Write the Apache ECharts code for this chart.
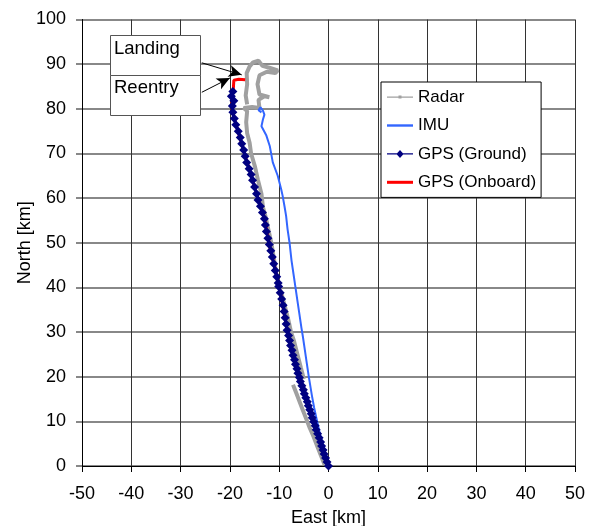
<!DOCTYPE html>
<html>
<head>
<meta charset="utf-8">
<script src="https://cdn.jsdelivr.net/npm/echarts@6/dist/echarts.min.js"></script>
<style>
  html, body { margin: 0; padding: 0; background: #fff; }
  #chart { width: 593px; height: 526px; }
</style>
</head>
<body>
<div id="chart"></div>
<script>
// values, [east km, north km]
const radarLow = [
  [-0.8, 0.3], [-1.6, 2.5], [-2.3, 4.5], [-3.0, 6.5], [-3.8, 8.5], [-4.5, 10.5],
  [-5.2, 12.5], [-5.9, 14.5], [-6.6, 16.5], [-7.2, 18.2]
];
const radarHigh = [
  [-5.0, 19.5], [-5.6, 22], [-6.3, 25], [-7.0, 28], [-7.6, 30], [-8.2, 33], [-8.9, 36],
  [-9.5, 38.5], [-10.0, 40], [-10.6, 43], [-11.0, 46], [-11.6, 50], [-12.2, 53],
  [-12.8, 56], [-13.3, 58], [-13.6, 61], [-14.3, 64], [-14.9, 67], [-15.7, 70],
  [-16.0, 72.4], [-16.5, 74.5], [-16.7, 77], [-16.5, 79.5], [-17.2, 80.2], [-15.5, 80.4],
  [-14.0, 80.2], [-14.2, 82], [-13.0, 82.8], [-12.0, 82.6], [-14.0, 83.2], [-14.4, 85.5],
  [-14.0, 87.5], [-12.5, 88.3], [-10.8, 88.0], [-10.3, 88.6], [-12.0, 89.2], [-13.4, 89.6],
  [-14.2, 90.8], [-15.3, 90.4], [-16.0, 89.5], [-16.6, 88.0], [-16.5, 85.5], [-16.8, 83.0],
  [-16.5, 81.0]
];
const imu = [
  [0, 0], [-0.5, 2], [-1.1, 4.5], [-1.7, 7], [-2.3, 10], [-2.9, 13], [-3.4, 16],
  [-4.0, 20], [-4.4, 23], [-4.8, 26], [-5.2, 29], [-5.5, 31], [-5.9, 34], [-6.3, 37],
  [-6.7, 40], [-7.1, 43], [-7.5, 46], [-7.9, 50], [-8.3, 53], [-8.6, 56], [-8.9, 58],
  [-9.3, 60.5], [-9.6, 62], [-10.3, 65], [-11.3, 68], [-11.9, 71.6], [-12.6, 74],
  [-13.6, 76.1], [-13.3, 77.6], [-13.0, 78.7], [-13.3, 79.6], [-13.8, 80.3], [-14.2, 79.7],
  [-13.6, 79.2]
];
const gpsGround = [
  [0, 0], [-0.3, 0.9], [-0.6, 1.8], [-0.9, 2.7], [-1.1, 3.6], [-1.4, 4.5], [-1.6, 5.4],
  [-1.9, 6.3], [-2.2, 7.2], [-2.5, 8.1], [-2.7, 9.0], [-3.0, 9.9], [-3.3, 10.8],
  [-3.5, 11.7], [-3.8, 12.6], [-4.1, 13.5], [-4.3, 14.4], [-4.6, 15.3], [-4.9, 16.2],
  [-5.1, 17.1], [-5.4, 18.0], [-5.7, 18.9], [-5.9, 19.8], [-6.2, 20.8], [-6.4, 21.8],
  [-6.7, 22.8], [-6.9, 23.8], [-7.2, 24.8], [-7.4, 25.9], [-7.7, 27.0], [-7.9, 28.1],
  [-8.1, 29.2], [-8.4, 30.4], [-8.6, 31.8], [-8.8, 33.2], [-9.0, 34.6], [-9.2, 36.0],
  [-9.5, 37.4], [-9.8, 38.8], [-10.1, 40.2], [-10.2, 41.0], [-10.5, 42.4], [-10.8, 43.8],
  [-11.1, 45.3], [-11.4, 46.8], [-11.7, 48.2], [-12.0, 49.6], [-12.3, 51.0], [-12.6, 52.5],
  [-12.8, 54.0], [-13.0, 55.4], [-13.4, 56.8], [-13.8, 58.2], [-14.3, 59.6], [-14.6, 61.0],
  [-15.0, 62.5], [-15.4, 64.0], [-15.7, 65.3], [-16.1, 66.6], [-16.6, 68.0], [-16.9, 69.4],
  [-17.2, 70.8], [-17.6, 72.2], [-17.9, 73.6], [-18.3, 75.0], [-18.8, 76.4], [-19.1, 77.8],
  [-19.4, 79.2], [-19.5, 80.6], [-19.2, 81.8], [-19.7, 82.8], [-19.4, 83.9]
];
const gpsOnboard = [
  [0, 0], [-1.5, 5], [-3.0, 10], [-4.5, 15], [-5.9, 20], [-7.2, 25], [-8.3, 30],
  [-8.9, 33.5], [-9.6, 38], [-10.2, 41], [-11.0, 45], [-11.8, 48.5], [-12.4, 52],
  [-13.0, 55.5], [-13.9, 58.5], [-14.6, 61], [-15.5, 64.5], [-16.5, 68], [-17.3, 71],
  [-18.1, 74], [-18.9, 77], [-19.5, 79.5], [-19.6, 82.5], [-19.3, 84.5], [-19.2, 86.4],
  [-18.2, 86.6], [-16.9, 86.5]
];
// annotation arrows: [from, to] in data coords
const landingArrow = [[-25.7, 90.3], [-17.6, 87.6]];
const reentryArrow = [[-25.7, 83.7], [-20.0, 86.9]];

const font = "Arial, 'Liberation Sans', sans-serif";
const chart = echarts.init(document.getElementById("chart"));

chart.setOption({
  animation: false,
  textStyle: { fontFamily: font },
  grid: { left: 82, right: 18, top: 19.5, bottom: 60, outerBoundsMode: "none" },
  legend: {
    orient: "vertical",
    left: 381,
    top: 82,
    padding: [6.6, 5, 6.6, 6],
    itemWidth: 26,
    itemHeight: 14,
    itemGap: 11.4,
    borderColor: "#000",
    borderWidth: 1,
    backgroundColor: "#fff",
    textStyle: { fontSize: 17, color: "#000", fontFamily: font },
    itemStyle: { borderWidth: 0 },
    data: [
      { name: "Radar", icon: "path://M0,5h26v1.2H0z M11.5,4.1h3v3h-3z" },
      { name: "IMU", icon: "path://M0,0h26v2.4H0z" },
      { name: "GPS (Ground)", icon: "path://M0,5.4h26v1.2H0z M13,2l3.6,4l-3.6,4l-3.6,-4z" },
      { name: "GPS (Onboard)", icon: "path://M0,0h26v3H0z" },
    ],
  },
  xAxis: [
    {
      type: "value",
      min: -50,
      max: 50,
      interval: 10,
      name: "East [km]",
      nameLocation: "middle",
      nameGap: 43,
      nameMoveOverlap: false,
      nameTextStyle: { fontSize: 18, color: "#000" },
      axisLine: { onZero: false, lineStyle: { color: "#000", width: 1 } },
      axisTick: { length: 6, lineStyle: { color: "#000" } },
      axisLabel: { fontSize: 18, color: "#000", margin: 19 },
      splitLine: { show: true, lineStyle: { color: "#333", width: 1 } },
    },
    {
      type: "value",
      position: "top",
      min: -50,
      max: 50,
      axisLine: { show: true, lineStyle: { color: "#000" } },
      axisTick: { show: false },
      axisLabel: { show: false },
      splitLine: { show: false },
    },
  ],
  yAxis: {
    type: "value",
    min: 0,
    max: 100,
    interval: 10,
    name: "North [km]",
    nameLocation: "middle",
    nameGap: 48,
    nameMoveOverlap: false,
    nameTextStyle: { fontSize: 18, color: "#000" },
    axisLine: { onZero: false, lineStyle: { color: "#000", width: 1 } },
    axisTick: { length: 6, lineStyle: { color: "#888", width: 2 } },
    axisLabel: { fontSize: 18, color: "#000", margin: 16 },
    splitLine: { show: true, lineStyle: { color: "#888", width: 2 } },
  },
  graphic: [
    { type: "rect", z: 50, shape: { x: 110.5, y: 35.5, width: 90, height: 40 },
      style: { fill: "#fff", stroke: "#555", lineWidth: 1 } },
    { type: "rect", z: 50, shape: { x: 110.5, y: 75.5, width: 90, height: 40 },
      style: { fill: "#fff", stroke: "#555", lineWidth: 1 } },
    { type: "text", z: 51, x: 114, y: 39, style: { text: "Landing", font: "18.5px " + font, fill: "#000" } },
    { type: "text", z: 51, x: 114, y: 78, style: { text: "Reentry", font: "18.5px " + font, fill: "#000" } },
  ],
  series: [
    {
      name: "Radar",
      type: "line",
      data: radarLow,
      z: 2,
      symbol: "rect",
      showSymbol: false,
      color: "#a0a0a0",
      lineStyle: { width: 4, color: "#a0a0a0" },
    },
    {
      name: "Radar",
      type: "line",
      data: radarHigh,
      z: 2,
      symbol: "rect",
      showSymbol: false,
      color: "#a0a0a0",
      lineStyle: { width: 4, color: "#a0a0a0" },
    },
    {
      name: "IMU",
      type: "line",
      data: imu,
      z: 3,
      showSymbol: false,
      color: "#3366ff",
      lineStyle: { width: 2, color: "#3366ff" },
    },
    {
      name: "GPS (Onboard)",
      type: "line",
      data: gpsOnboard,
      z: 4,
      showSymbol: false,
      color: "#ff0000",
      lineStyle: { width: 3, color: "#ff0000" },
    },
    {
      name: "GPS (Ground)",
      type: "line",
      data: gpsGround,
      z: 5,
      symbol: "diamond",
      symbolSize: 9,
      color: "#000080",
      itemStyle: { color: "#000080" },
      lineStyle: { width: 2, color: "#000080" },
      markLine: {
        silent: true,
        symbol: ["none", "arrow"],
        symbolSize: [9, 13],
        label: { show: false },
        lineStyle: { color: "#000", width: 1, type: "solid" },
        data: [
          [{ coord: landingArrow[0] }, { coord: landingArrow[1] }],
          [{ coord: reentryArrow[0] }, { coord: reentryArrow[1] }],
        ],
      },
    },
  ],
});
</script>
</body>
</html>
